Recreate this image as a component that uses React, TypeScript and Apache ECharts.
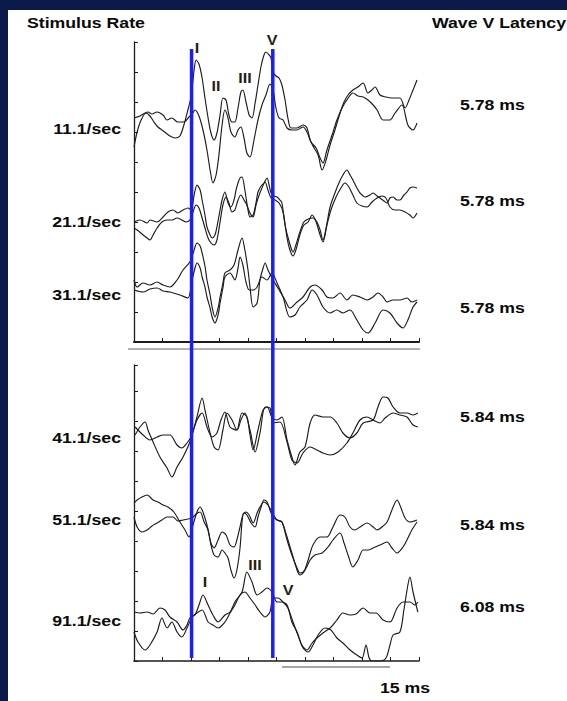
import React, { useEffect, useRef } from "react";
import * as echarts from "echarts";

// ---------- DATA ----------
const stimulusRates = ["11.1/sec", "21.1/sec", "31.1/sec", "41.1/sec", "51.1/sec", "91.1/sec"];
const waveVLatencies = [5.78, 5.78, 5.78, 5.84, 5.84, 6.08];
const markerTimes = [2.02, 4.87]; // blue markers at waves I and V (ms on the time axis)
const timeTicks = [0, 10]; // time axis range, 1 ms per tick
const durationLabel = "15 ms";

// each trace: [time (ms), amplitude (arb. units)] ; two replications per rate
const r11a: number[][] = [[0,19.5],[0.11,21.0],[0.25,22.2],[0.42,22.9],[0.56,22.6],[0.7,22.0],[0.84,21.5],[0.98,21.2],[1.12,20.9],[1.26,20.6],[1.44,20.4],[1.61,20.6],[1.75,21.7],[1.89,23.2],[2.0,24.5],[2.11,27.2],[2.18,28.2],[2.28,27.8],[2.39,26.4],[2.49,24.4],[2.6,22.4],[2.7,20.9],[2.81,20.2],[2.91,20.9],[3.02,22.7],[3.12,24.4],[3.23,24.2],[3.33,22.7],[3.44,22.0],[3.54,22.0],[3.65,23.4],[3.75,25.0],[3.82,25.2],[3.93,24.0],[4.04,22.7],[4.14,22.4],[4.25,23.9],[4.35,25.7],[4.46,27.6],[4.56,28.7],[4.63,29.0],[4.74,28.7],[4.81,28.4],[4.88,27.0],[4.98,26.6],[5.09,26.4],[5.19,25.7],[5.3,24.2],[5.4,22.4],[5.51,21.4],[5.72,21.4],[5.93,21.7],[6.07,21.4],[6.18,20.2],[6.32,19.4],[6.46,18.7],[6.6,17.2],[6.74,18.2],[6.88,19.7],[7.05,21.2],[7.23,22.9],[7.37,24.0],[7.51,24.7],[7.68,25.2],[7.86,25.5],[8.04,25.9],[8.21,24.9],[8.35,25.2],[8.46,25.5],[8.63,24.7],[8.84,24.5],[9.05,24.4],[9.33,24.4],[9.51,23.4],[9.65,24.2],[9.79,25.2],[9.93,26.2]];
const r11b: number[][] = [[0,22.4],[0.21,22.6],[0.49,23.0],[0.63,22.8],[0.81,23.0],[1.02,22.7],[1.16,22.2],[1.33,22.4],[1.54,22.0],[1.75,22.0],[1.93,22.5],[2.04,22.8],[2.14,23.2],[2.28,22.6],[2.42,21.2],[2.56,19.2],[2.67,17.2],[2.77,15.9],[2.88,16.7],[2.98,18.7],[3.09,21.7],[3.19,23.2],[3.3,22.4],[3.4,21.0],[3.54,20.5],[3.65,21.2],[3.75,21.5],[3.86,20.4],[3.96,18.9],[4.07,18.5],[4.21,20.2],[4.35,22.2],[4.49,23.7],[4.63,24.7],[4.77,25.8],[4.88,25.2],[4.98,23.4],[5.09,22.4],[5.23,22.2],[5.37,21.4],[5.54,21.2],[5.72,21.2],[5.93,21.5],[6.07,21.0],[6.21,20.0],[6.39,19.4],[6.53,18.4],[6.63,17.9],[6.77,19.2],[6.95,20.7],[7.12,22.2],[7.3,23.4],[7.47,24.2],[7.68,24.9],[7.86,24.6],[8.04,24.5],[8.21,24.2],[8.39,23.7],[8.53,23.2],[8.74,22.2],[8.98,22.2],[9.16,22.9],[9.4,23.7],[9.61,21.7],[9.79,21.2],[9.93,21.9]];
const r21a: number[][] = [[0,12.0],[0.21,12.2],[0.46,11.9],[0.56,12.2],[0.81,12.0],[1.02,12.5],[1.19,13.0],[1.37,13.2],[1.54,12.9],[1.72,13.2],[1.89,13.4],[2.0,13.2],[2.11,14.7],[2.21,15.7],[2.32,15.2],[2.39,14.2],[2.49,12.7],[2.56,11.5],[2.67,10.7],[2.74,10.4],[2.84,10.7],[2.91,11.5],[3.02,13.2],[3.09,14.2],[3.19,15.0],[3.3,13.9],[3.4,13.5],[3.51,14.2],[3.58,15.2],[3.65,15.9],[3.72,16.4],[3.79,16.5],[3.89,15.2],[4.0,13.2],[4.07,12.5],[4.18,12.7],[4.28,13.9],[4.35,15.0],[4.46,15.6],[4.56,15.9],[4.67,16.4],[4.74,15.7],[4.81,14.9],[4.91,14.6],[5.02,14.5],[5.12,14.2],[5.19,13.9],[5.3,11.7],[5.4,10.5],[5.51,9.4],[5.58,9.0],[5.68,9.7],[5.82,11.0],[5.96,12.0],[6.11,12.3],[6.28,12.4],[6.42,12.0],[6.53,11.2],[6.63,10.2],[6.74,11.4],[6.88,13.5],[7.05,14.9],[7.19,15.9],[7.33,16.7],[7.47,17.2],[7.58,16.7],[7.68,16.2],[7.82,15.4],[7.93,14.9],[8.11,14.5],[8.28,14.7],[8.39,14.9],[8.53,14.6],[8.63,14.4],[8.77,14.1],[8.88,13.9],[8.98,14.4],[9.09,14.5],[9.23,14.2],[9.33,14.2],[9.47,14.7],[9.58,15.0],[9.68,15.4],[9.79,15.5],[9.93,15.4]];
const r21b: number[][] = [[0,11.4],[0.11,11.2],[0.32,10.7],[0.46,10.4],[0.56,10.2],[0.67,10.7],[0.81,11.4],[0.98,12.0],[1.16,12.2],[1.33,12.2],[1.51,12.4],[1.68,12.2],[1.82,12.0],[1.96,12.2],[2.07,13.0],[2.18,13.7],[2.28,13.4],[2.39,12.4],[2.49,11.4],[2.6,10.4],[2.7,9.9],[2.81,9.7],[2.91,10.2],[3.02,12.0],[3.12,13.7],[3.23,14.5],[3.33,13.9],[3.44,13.0],[3.54,13.2],[3.65,14.2],[3.75,14.7],[3.86,14.2],[3.96,13.7],[4.07,12.9],[4.18,12.5],[4.28,13.7],[4.39,14.7],[4.49,15.4],[4.6,16.0],[4.7,15.2],[4.81,14.4],[4.95,14.2],[5.09,13.9],[5.23,13.0],[5.37,10.4],[5.47,9.2],[5.58,8.6],[5.68,9.2],[5.82,10.7],[5.96,11.7],[6.11,12.0],[6.25,12.7],[6.39,12.0],[6.53,10.7],[6.63,10.0],[6.77,11.7],[6.91,13.2],[7.09,14.5],[7.26,15.4],[7.4,15.9],[7.54,15.5],[7.68,14.7],[7.82,13.9],[8.0,13.6],[8.18,13.5],[8.35,14.0],[8.53,14.4],[8.7,14.6],[8.84,14.4],[8.98,13.5],[9.16,13.2],[9.33,13.2],[9.51,13.0],[9.68,12.7],[9.79,12.4],[9.93,12.9]];
const r31a: number[][] = [[0,6.2],[0.11,5.5],[0.32,5.9],[0.56,5.7],[0.81,6.0],[1.02,5.7],[1.26,5.5],[1.51,6.2],[1.72,7.2],[1.96,8.0],[2.11,9.2],[2.21,9.9],[2.32,9.6],[2.39,8.9],[2.49,7.6],[2.56,6.2],[2.67,4.7],[2.74,3.5],[2.84,2.5],[2.95,3.4],[3.02,4.5],[3.12,5.9],[3.19,6.9],[3.37,7.2],[3.51,7.7],[3.65,9.2],[3.79,10.4],[3.89,9.2],[4.0,7.2],[4.07,5.5],[4.18,3.5],[4.32,3.9],[4.42,6.2],[4.53,7.4],[4.6,7.9],[4.7,7.2],[4.88,6.2],[5.05,5.4],[5.3,4.2],[5.47,3.4],[5.72,4.0],[5.93,4.5],[6.18,5.5],[6.35,5.7],[6.6,5.2],[6.77,4.5],[6.98,4.4],[7.23,4.9],[7.47,4.2],[7.68,4.7],[7.93,4.5],[8.18,4.2],[8.39,4.5],[8.56,4.9],[8.74,4.5],[8.88,4.0],[9.09,4.2],[9.33,4.2],[9.58,4.4],[9.75,4.0],[9.93,4.2]];
const r31b: number[][] = [[0,5.2],[0.32,5.0],[0.56,5.3],[0.81,5.4],[1.02,5.1],[1.26,5.0],[1.61,4.7],[1.89,4.4],[2.04,6.2],[2.14,7.4],[2.21,7.9],[2.32,7.4],[2.39,6.5],[2.49,5.5],[2.56,4.5],[2.67,3.4],[2.74,2.5],[2.84,1.9],[2.95,2.7],[3.02,3.9],[3.12,5.4],[3.19,6.5],[3.37,6.9],[3.54,6.2],[3.65,7.4],[3.72,8.5],[3.82,7.7],[3.93,6.0],[4.04,5.2],[4.18,5.2],[4.32,5.5],[4.49,6.5],[4.67,6.2],[4.77,6.6],[4.84,6.9],[5.02,5.9],[5.23,4.5],[5.47,2.5],[5.65,2.7],[5.82,3.5],[6.07,4.2],[6.25,5.2],[6.42,4.7],[6.63,3.5],[6.88,2.9],[7.12,3.2],[7.33,2.9],[7.58,3.2],[7.82,2.2],[8.04,1.2],[8.21,0.9],[8.46,1.9],[8.74,3.2],[8.98,2.9],[9.23,1.9],[9.44,1.4],[9.61,2.2],[9.79,3.5],[9.93,4.0]];
const r41a: number[][] = [[0.04,22.6],[0.21,23.4],[0.39,23.9],[0.49,23.1],[0.67,21.9],[0.91,20.4],[1.16,19.3],[1.33,18.4],[1.51,19.4],[1.72,20.4],[1.96,21.9],[2.21,24.4],[2.39,26.3],[2.49,25.1],[2.67,22.8],[2.81,21.4],[2.95,21.1],[3.12,23.1],[3.26,24.8],[3.44,24.1],[3.61,23.1],[3.79,24.8],[3.96,24.4],[4.07,22.6],[4.18,21.1],[4.35,23.1],[4.53,25.1],[4.67,25.4],[4.84,24.4],[5.02,24.1],[5.19,24.4],[5.37,22.1],[5.54,20.4],[5.65,19.6],[5.82,20.9],[6.0,21.4],[6.18,23.8],[6.35,24.6],[6.63,24.4],[6.88,24.4],[7.12,23.8],[7.33,22.8],[7.58,22.3],[7.82,22.8],[8.04,23.8],[8.39,24.1],[8.56,25.4],[8.74,26.4],[8.91,26.3],[9.09,25.4],[9.33,24.8],[9.58,24.8],[9.79,24.6],[9.96,24.8]];
const r41b: number[][] = [[0.04,23.4],[0.32,22.6],[0.56,22.1],[0.81,22.4],[1.02,22.6],[1.26,22.6],[1.51,21.6],[1.68,21.3],[1.86,21.8],[2.0,22.4],[2.21,24.1],[2.39,24.8],[2.56,23.4],[2.74,22.4],[2.91,22.8],[3.05,24.1],[3.19,24.9],[3.37,23.4],[3.61,23.1],[3.75,24.1],[3.89,24.8],[4.07,23.1],[4.25,20.9],[4.42,22.8],[4.6,25.4],[4.77,25.3],[4.88,23.8],[5.12,23.9],[5.37,21.9],[5.54,20.1],[5.72,19.8],[5.93,20.8],[6.18,21.4],[6.42,21.1],[6.63,20.8],[6.88,20.6],[7.16,20.9],[7.47,21.8],[7.68,22.8],[7.93,24.1],[8.18,24.4],[8.39,24.1],[8.63,23.8],[8.81,24.3],[9.09,24.8],[9.33,24.6],[9.58,24.4],[9.79,23.6],[9.96,23.4]];
const r51a: number[][] = [[0,15.8],[0.11,16.1],[0.28,16.4],[0.46,16.6],[0.67,16.1],[0.84,15.9],[1.02,15.6],[1.19,15.4],[1.4,14.9],[1.61,13.9],[1.79,13.1],[1.93,12.4],[2.07,13.6],[2.21,14.9],[2.32,15.4],[2.42,14.9],[2.56,13.6],[2.7,11.8],[2.81,11.3],[2.95,12.1],[3.09,12.9],[3.23,12.6],[3.37,11.6],[3.51,11.4],[3.61,12.1],[3.72,13.4],[3.86,14.8],[3.96,14.6],[4.11,13.8],[4.25,13.4],[4.35,14.4],[4.46,15.4],[4.56,16.1],[4.67,15.9],[4.77,15.1],[4.88,14.4],[5.02,14.1],[5.19,13.9],[5.37,12.4],[5.54,10.8],[5.72,9.1],[5.82,8.6],[5.96,8.9],[6.11,10.1],[6.28,11.6],[6.53,12.4],[6.77,12.4],[6.98,13.4],[7.23,14.6],[7.4,14.4],[7.58,13.4],[7.75,13.1],[7.93,13.4],[8.18,13.8],[8.39,13.4],[8.53,13.1],[8.7,13.4],[8.88,13.9],[9.05,15.1],[9.23,16.1],[9.37,15.3],[9.51,14.3],[9.68,13.9],[9.93,14.1]];
const r51b: number[][] = [[0,14.4],[0.11,13.4],[0.28,12.9],[0.46,13.1],[0.63,13.5],[0.81,13.8],[0.98,14.1],[1.16,14.4],[1.37,14.4],[1.54,14.0],[1.72,14.1],[1.89,14.2],[2.04,14.3],[2.18,14.7],[2.32,14.9],[2.46,13.9],[2.6,13.1],[2.7,11.6],[2.81,10.6],[2.95,10.4],[3.09,11.1],[3.19,10.8],[3.3,10.3],[3.4,9.1],[3.51,8.3],[3.61,9.1],[3.72,11.3],[3.82,14.6],[3.93,14.9],[4.04,14.6],[4.18,13.8],[4.32,14.8],[4.42,15.4],[4.56,15.9],[4.7,15.6],[4.84,14.9],[5.02,14.1],[5.19,13.9],[5.37,12.1],[5.54,10.6],[5.72,9.3],[5.82,8.8],[6.0,9.1],[6.18,10.1],[6.35,10.6],[6.6,10.8],[6.81,11.4],[6.98,12.1],[7.23,12.8],[7.37,11.8],[7.51,10.6],[7.68,9.4],[7.86,10.1],[8.04,11.1],[8.21,11.1],[8.39,11.3],[8.63,11.6],[8.88,11.9],[9.05,11.3],[9.23,10.8],[9.44,11.4],[9.61,12.3],[9.75,13.1],[9.93,13.9]];
const r91a: number[][] = [[0,4.9],[0.21,4.8],[0.46,4.9],[0.67,4.7],[0.91,5.3],[1.09,5.1],[1.26,4.4],[1.51,3.9],[1.72,3.1],[1.86,3.6],[1.96,4.3],[2.14,4.6],[2.28,5.6],[2.42,6.6],[2.6,5.6],[2.77,4.6],[2.95,3.9],[3.19,4.6],[3.37,4.9],[3.54,5.9],[3.79,6.9],[3.96,8.9],[4.14,7.9],[4.32,6.6],[4.49,6.9],[4.67,7.3],[4.84,6.9],[5.02,5.9],[5.19,5.9],[5.37,5.6],[5.54,3.9],[5.72,2.9],[5.89,1.6],[6.07,1.1],[6.25,1.8],[6.42,2.3],[6.63,2.8],[6.88,3.3],[7.12,4.1],[7.33,4.8],[7.58,4.6],[7.79,4.7],[8.04,5.3],[8.28,4.8],[8.49,4.8],[8.74,4.1],[8.98,3.9],[9.23,5.3],[9.44,5.9],[9.68,5.9],[9.86,5.6],[9.96,5.9]];
const r91b: number[][] = [[0,2.9],[0.14,1.9],[0.39,1.1],[0.56,1.6],[0.81,2.9],[0.98,4.3],[1.16,3.3],[1.33,3.9],[1.51,2.9],[1.68,2.4],[1.86,3.3],[2.04,4.4],[2.21,4.8],[2.39,5.1],[2.6,3.9],[2.77,3.6],[2.95,3.3],[3.19,3.9],[3.37,4.8],[3.54,5.6],[3.72,6.6],[3.89,6.9],[4.07,6.3],[4.25,5.6],[4.42,4.9],[4.6,4.4],[4.77,4.9],[4.88,6.3],[5.05,6.3],[5.23,5.9],[5.4,5.3],[5.58,3.9],[5.75,2.6],[5.93,1.3],[6.11,0.9],[6.28,1.6],[6.46,2.6],[6.7,3.3],[6.91,3.1],[7.12,2.3],[7.33,1.8],[7.58,1.1],[7.82,0.6],[8.0,0.3],[8.14,1.6],[8.25,0.3],[8.35,0],[8.63,0],[8.84,0.3],[8.98,1.6],[9.09,2.6],[9.33,2.9],[9.47,5.1],[9.61,7.6],[9.68,8.4],[9.79,6.9],[9.96,4.9]];

const topTraces = [r11a, r11b, r21a, r21b, r31a, r31b];
const bottomTraces = [r41a, r41b, r51a, r51b, r91a, r91b];

// ---------- STYLE / LAYOUT ----------
const NAVY = "#0b1a4b";
const INK = "#1c1c1c";
const BLUE = "#1c1cff";
const FONT = '"Liberation Sans", Arial, sans-serif';

const label = (text: string, x: number, y: number, align: string, size = 15, sx = 1.2, fill = "#0a0a0a") => ({
  type: "text",
  x,
  y,
  scaleX: sx,
  z: 10,
  style: {
    text,
    fill,
    font: `bold ${size}px ${FONT}`,
    textAlign: align,
    textVerticalAlign: "middle",
  },
});

export default function App() {
  const ref = useRef<HTMLDivElement>(null);

  useEffect(() => {
    if (!ref.current) return;
    const chart = echarts.init(ref.current, null, { renderer: "svg", width: 567, height: 701 });

    const axisCommon = {
      show: true,
      axisLine: { show: true, lineStyle: { color: INK, width: 1.3 } },
      axisTick: { show: true, inside: true, length: 4, lineStyle: { color: INK, width: 1 } },
      axisLabel: { show: false },
      splitLine: { show: false },
    };

    const series: any[] = [];
    topTraces.forEach((d) =>
      series.push({
        type: "line",
        xAxisIndex: 0,
        yAxisIndex: 0,
        data: d,
        showSymbol: false,
        smooth: 0.3,
        lineStyle: { color: INK, width: 1.15 },
        silent: true,
      })
    );
    bottomTraces.forEach((d) =>
      series.push({
        type: "line",
        xAxisIndex: 1,
        yAxisIndex: 1,
        data: d,
        showSymbol: false,
        smooth: 0.3,
        lineStyle: { color: INK, width: 1.15 },
        silent: true,
      })
    );
    markerTimes.forEach((t) =>
      series.push({
        type: "line",
        xAxisIndex: 2,
        yAxisIndex: 2,
        data: [
          [t, 0],
          [t, 1],
        ],
        showSymbol: false,
        lineStyle: { color: BLUE, width: 3.5 },
        z: 5,
        silent: true,
      })
    );

    const rateY = [129, 222, 295, 438, 520, 621];
    const latY = [105, 201, 308, 417, 525, 607];

    const graphics: any[] = [
      { type: "rect", shape: { x: 0, y: 0, width: 8, height: 701 }, style: { fill: NAVY }, z: 20 },
      { type: "rect", shape: { x: 0, y: 0, width: 567, height: 10 }, style: { fill: NAVY }, z: 20 },
      { type: "line", shape: { x1: 128, y1: 349, x2: 420, y2: 349 }, style: { stroke: "#666", lineWidth: 1 } },
      { type: "line", shape: { x1: 282, y1: 667, x2: 390, y2: 667 }, style: { stroke: "#888", lineWidth: 1.5 } },
      label("Stimulus Rate", 27, 23, "left", 15, 1.18),
      label("Wave V Latency", 432, 23, "left", 15, 1.18),
      label(durationLabel, 380, 688, "left", 15, 1.18),
      label("I", 197, 48, "center", 14, 1.15, "#2a1c10"),
      label("II", 216, 86, "center", 14, 1.15, "#2a1c10"),
      label("III", 245, 78, "center", 14, 1.15, "#2a1c10"),
      label("V", 272, 40, "center", 14, 1.15, "#2a1c10"),
      label("I", 205, 582, "center", 14, 1.15, "#2a1c10"),
      label("III", 255, 565, "center", 14, 1.15, "#2a1c10"),
      label("V", 288, 590, "center", 14, 1.15, "#2a1c10"),
    ];
    stimulusRates.forEach((r, i) => graphics.push(label(r, 121, rateY[i], "right", 15, 1.18)));
    waveVLatencies.forEach((v, i) => graphics.push(label(`${v.toFixed(2)} ms`, 460, latY[i], "left", 15, 1.18)));

    chart.setOption({
      animation: false,
      backgroundColor: "#ffffff",
      grid: [
        { left: 134, top: 42, width: 285, height: 300 },
        { left: 134, top: 365, width: 285, height: 296 },
        { left: 134, top: 49, width: 285, height: 609 },
      ],
      xAxis: [
        { ...axisCommon, type: "value", gridIndex: 0, min: timeTicks[0], max: timeTicks[1], interval: 1, axisLine: { show: true, lineStyle: { color: INK, width: 2 } } },
        { ...axisCommon, type: "value", gridIndex: 1, min: timeTicks[0], max: timeTicks[1], interval: 1, axisLine: { show: true, lineStyle: { color: INK, width: 1.6 } } },
        { type: "value", gridIndex: 2, min: timeTicks[0], max: timeTicks[1], show: false },
      ],
      yAxis: [
        { ...axisCommon, type: "value", gridIndex: 0, min: 0, max: 30, interval: 3 },
        { ...axisCommon, type: "value", gridIndex: 1, min: 0, max: 29.6, interval: 3 },
        { type: "value", gridIndex: 2, min: 0, max: 1, show: false },
      ],
      series,
      graphic: graphics,
    });

    return () => chart.dispose();
  }, []);

  return (
    <div
      ref={ref}
      style={{ position: "fixed", left: 0, top: 0, width: 567, height: 701 }}
    />
  );
}
